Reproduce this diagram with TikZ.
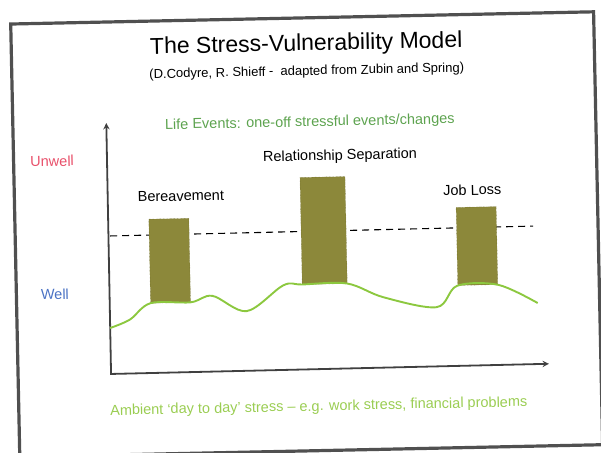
\documentclass[tikz,border=0pt]{standalone}
\usepackage{fontspec}
\setmainfont{Liberation Sans}
\usepackage{tikz}

\definecolor{framegray}{HTML}{505050}
\definecolor{axisgray}{HTML}{404040}
\definecolor{eventgreen}{HTML}{5DA34F}
\definecolor{ambientgreen}{HTML}{9ACD52}
\definecolor{wavegreen}{HTML}{8CC83F}
\definecolor{barolive}{HTML}{8C883A}
\definecolor{unwellred}{HTML}{E8506A}
\definecolor{wellblue}{HTML}{4A72C4}

\tikzset{
  lbl/.style={font=\fontsize{14.5}{17}\selectfont, inner sep=0pt},
  eventbar/.style={rectangle, fill=barolive, draw=barolive!75!black, densely dotted, inner sep=0pt, outer sep=0pt},
}

\begin{document}
\begin{tikzpicture}[x=1pt,y=-1pt]
  \useasboundingbox (0,0) rectangle (601,452);
  \clip (0,0) rectangle (601,452);
  \begin{scope}[rotate around={1.2:(300,226)}, transform shape]
  % slide frame
  \draw[framegray, line width=3.2pt] (15,18) rectangle (598,451);

  \node[inner sep=0pt, font=\fontsize{23}{27}\selectfont] (title) at (310,45) {The Stress-Vulnerability Model};
  \node[inner sep=0pt, font=\fontsize{13}{15}\selectfont] (subtitle) at (310,72) {(D.Codyre, R. Shieff - \ adapted from Zubin and Spring)};

  % axes
  \coordinate (origin) at (108,370);
  \coordinate (ytop) at (108.5,119);
  \coordinate (xend) at (546,369);
  \draw[axisgray, line width=1.8pt, stealth-stealth] (ytop) -- (origin) -- (xend);

  % threshold
  \coordinate (tleft) at (110,232);
  \coordinate (tright) at (533,231);
  \draw[black, line width=1.1pt, dash pattern=on 7pt off 5pt] (tleft) -- (tright);

  \node[eventbar, minimum width=40pt, minimum height=84pt] (bereave) at (169,258) {};
  \node[eventbar, minimum width=45pt, minimum height=107pt] (separate) at (323.5,231) {};
  \node[eventbar, minimum width=40pt, minimum height=78pt] (jobloss) at (476.5,249.7) {};

  % day to day stress
  \draw[wavegreen, line width=1.9pt] plot[smooth, tension=0.55] coordinates {
    (108,324) (128,316) (149,300) (189,300) (211,294) (245,310) (282,285)
    (301,284.5) (346,284.5) (382,299) (435,310) (456,289) (497,289) (536,308)};

  \node[lbl, text=eventgreen] (events) at (312,123) {Life Events: one-off stressful events/changes};
  \node[lbl] (separatelbl) at (341.5,157) {Relationship Separation};
  \node[lbl] (bereavelbl) at (181.5,193.5) {Bereavement};
  \node[lbl] (joblbl) at (473,193.5) {Job Loss};
  \node[lbl, text=unwellred] (unwell) at (53.5,156) {Unwell};
  \node[lbl, text=wellblue] (well) at (53.5,289) {Well};
  \node[lbl, text=ambientgreen] (ambient) at (315,407.5) {Ambient `day to day' stress -- e.g. work stress, financial problems};
  \end{scope}
\end{tikzpicture}
\end{document}
